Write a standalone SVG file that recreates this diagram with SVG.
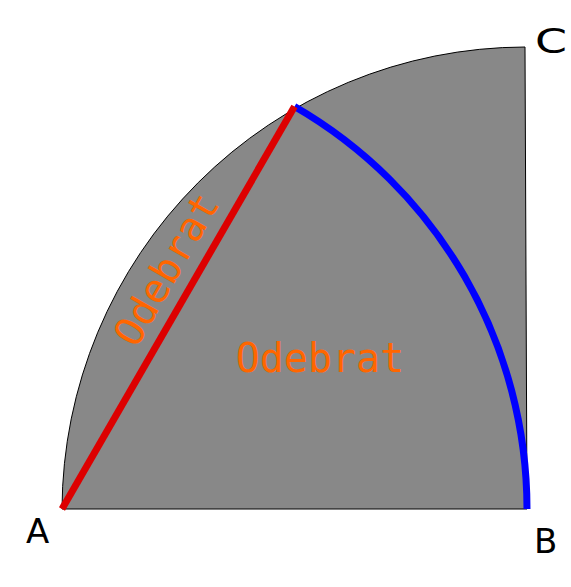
<svg xmlns="http://www.w3.org/2000/svg" width="571" height="587" viewBox="0 0 571 587">
<style>
.lbl{font-family:"DejaVu Sans",sans-serif;font-size:34px;fill:#000}
.od{font-family:"DejaVu Sans Mono",monospace;font-size:40px;fill:#ff6600;text-anchor:middle}
</style>
<rect width="571" height="587" fill="#fff"/>
<g id="sector">
<path d="M62,509 L527,509 L525,47 A464,464 0 0 0 62,509 Z" fill="#888888" stroke="#000" stroke-width="1"/>
</g>
<g id="connectors">
<path id="blue-arc" d="M294.5,106.5 A465,465 0 0 1 527,509" fill="none" stroke="#0000ff" stroke-width="7"/>
<line id="red-line" x1="62" y1="509" x2="294.5" y2="106.5" stroke="#dd0000" stroke-width="7"/>
</g>
<g id="labels">
<text class="lbl" x="26" y="543">A</text>
<text class="lbl" x="534" y="553">B</text>
<text class="lbl" transform="translate(535,53) scale(1.35,1)" x="0" y="0" font-size="28">C</text>
<text class="od" x="320" y="372">Odebrat</text>
<text class="od" transform="translate(178.3,276.3) rotate(-60)" x="0" y="0">Odebrat</text>
</g>
</svg>
